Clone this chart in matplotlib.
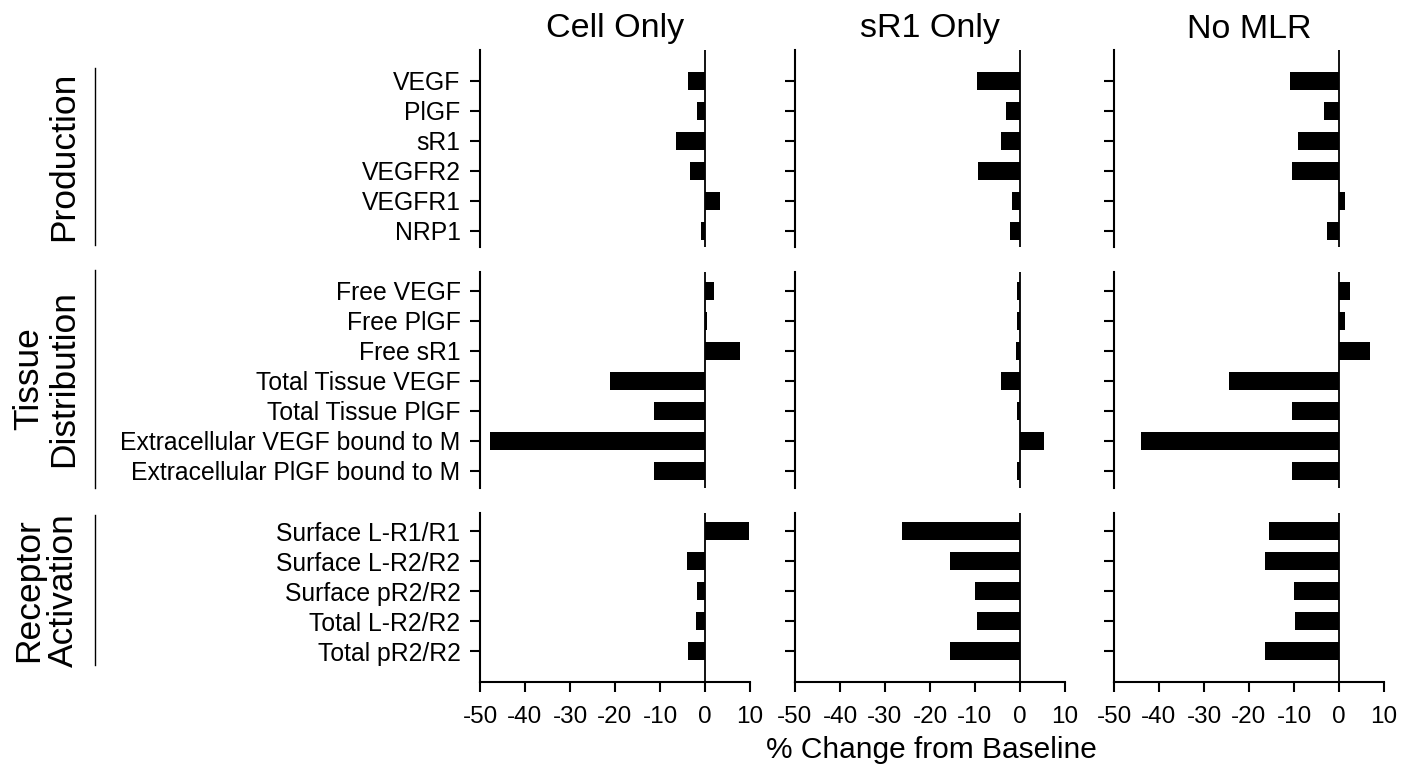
import matplotlib
matplotlib.use("Agg")
import matplotlib.pyplot as plt
from matplotlib.lines import Line2D

plt.rcParams['font.family'] = ['Liberation Sans', 'DejaVu Sans']

conditions = ["Cell Only", "sR1 Only", "No MLR"]

production_labels = ["VEGF", "PlGF", "sR1", "VEGFR2", "VEGFR1", "NRP1"]
production_cell = [-3.7, -1.7, -6.5, -3.4, 3.4, -1.0]
production_sr1 = [-9.5, -3.1, -4.2, -9.3, -1.8, -2.2]
production_nomlr = [-11.0, -3.3, -9.1, -10.4, 1.3, -2.7]

tissue_labels = ["Free VEGF", "Free PlGF", "Free sR1", "Total Tissue VEGF",
                 "Total Tissue PlGF", "Extracellular VEGF bound to M",
                 "Extracellular PlGF bound to M"]
tissue_cell = [1.9, 0.5, 7.7, -21.2, -11.3, -47.8, -11.3]
tissue_sr1 = [-0.7, -0.6, -1.0, -4.2, -0.6, 5.3, -0.6]
tissue_nomlr = [2.5, 1.3, 6.8, -24.4, -10.4, -44.1, -10.4]

receptor_labels = ["Surface L-R1/R1", "Surface L-R2/R2", "Surface pR2/R2",
                   "Total L-R2/R2", "Total pR2/R2"]
receptor_cell = [9.8, -3.9, -1.8, -2.0, -3.8]
receptor_sr1 = [-26.3, -15.6, -10.0, -9.5, -15.6]
receptor_nomlr = [-15.6, -16.5, -10.0, -9.8, -16.4]

group_names = ["Production", "Tissue\nDistribution", "Receptor\nActivation"]
xticks = [-50, -40, -30, -20, -10, 0, 10]

groups = [
    (production_labels, [production_cell, production_sr1, production_nomlr]),
    (tissue_labels, [tissue_cell, tissue_sr1, tissue_nomlr]),
    (receptor_labels, [receptor_cell, receptor_sr1, receptor_nomlr]),
]

W, H = 1415, 776
fig = plt.figure(figsize=(W / 100, H / 100), dpi=100)

# pixel layout of panels
col_left = [480, 795, 1114]
col_width = 270
row_box = [(50, 247), (272, 488), (513, 682)]   # top, bottom in px
row_ylim = [(5.55, -1.03), (6.57, -0.63), (5.03, -0.6)]
label_lines = [(68, 245), (270, 488), (515, 665)]

for r, (labels, series) in enumerate(groups):
    top, bot = row_box[r]
    for c in range(3):
        ax = fig.add_axes([col_left[c] / W, 1 - bot / H, col_width / W, (bot - top) / H])
        ypos = list(range(len(labels)))
        ax.barh(ypos, series[c], height=0.6, color="black", linewidth=0)
        ax.axvline(0, color="black", lw=1.3)
        ax.set_xlim(-50, 10)
        ax.set_ylim(*row_ylim[r])
        ax.spines["top"].set_visible(False)
        ax.spines["right"].set_visible(False)
        ax.spines["left"].set_linewidth(1.5)
        ax.set_yticks(ypos)
        ax.tick_params(axis="y", direction="out", length=7, width=1.5, pad=7)
        if c == 0:
            ax.set_yticklabels(labels, fontsize=17.8)
        else:
            ax.set_yticklabels([])
        if r == 2:
            ax.spines["bottom"].set_linewidth(1.5)
            ax.set_xticks(xticks)
            ax.set_xticklabels([str(t) for t in xticks], fontsize=17.5)
            ax.tick_params(axis="x", direction="out", length=7, width=1.5, pad=10)
        else:
            ax.spines["bottom"].set_visible(False)
            ax.set_xticks([])
        if r == 0:
            ax.set_title(conditions[c], fontsize=24.5, pad=9)

# group labels with vertical rules
for r, name in enumerate(group_names):
    y0, y1 = label_lines[r]
    fig.add_artist(Line2D([95 / W, 95 / W], [1 - y0 / H, 1 - y1 / H],
                          color="black", lw=1.0))
    fig.text(46 / W if "\n" in name else 64 / W, 1 - (y0 + y1) / 2 / H, name,
             rotation=90, ha="center", va="center", fontsize=25.5,
             multialignment="center", linespacing=1.05)

fig.text(931 / W, 1 - 750 / H, "% Change from Baseline", ha="center",
         va="center", fontsize=21.5)

fig.savefig("out.png", dpi=100)
